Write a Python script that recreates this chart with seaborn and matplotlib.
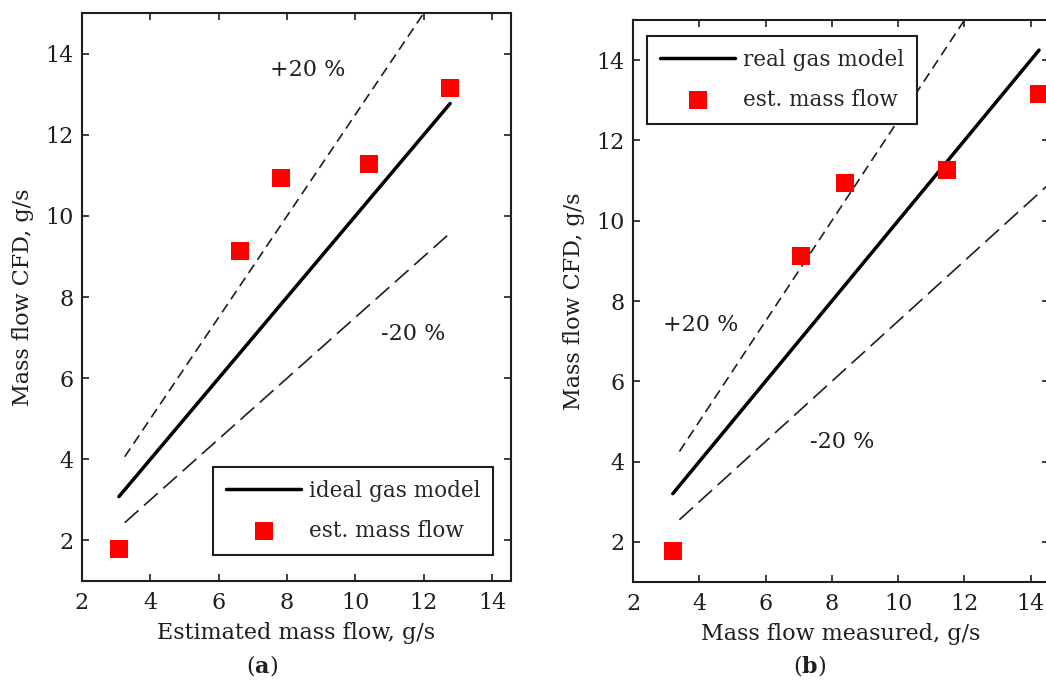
import numpy as np
import matplotlib
matplotlib.use("Agg")
import matplotlib.pyplot as plt
import seaborn as sns

# --- Data ---
cfd_flow = [1.78, 9.13, 10.94, 11.27, 13.15]          # Mass flow CFD, g/s
est_flow = [3.08, 6.61, 7.82, 10.40, 12.77]           # Estimated mass flow, g/s (a)
meas_flow = [3.20, 7.06, 8.39, 11.48, 14.25]          # Mass flow measured, g/s (b)

band_x_a = [3.25, 12.8]
band_x_b = [3.4, 14.6]
upper_factor = 1.25
lower_factor = 0.75

xticks = [2, 4, 6, 8, 10, 12, 14]
yticks = [2, 4, 6, 8, 10, 12, 14]

# --- Style ---
sns.set_theme(style="ticks")
plt.rcParams["font.family"] = ["DejaVu Serif"]
plt.rcParams["mathtext.fontset"] = "dejavuserif"
FS = 16
INK = "#1e1e1e"
W, H = 1046, 689


def draw_panel(ax, x_pts, band_x, line_label, xlabel, txt_up, txt_lo):
    x_pts = np.asarray(x_pts)
    ideal = np.array([x_pts.min(), x_pts.max()])
    bx = np.asarray(band_x)
    sns.lineplot(x=bx, y=bx * upper_factor, ax=ax, color=INK, lw=1.2,
                 linestyle=(0, (6, 3.5)))
    sns.lineplot(x=bx, y=bx * lower_factor, ax=ax, color=INK, lw=1.2,
                 linestyle=(0, (11, 4.5)))
    sns.lineplot(x=ideal, y=ideal, ax=ax, color="black", lw=2.5, label=line_label)
    sns.scatterplot(x=x_pts, y=cfd_flow, ax=ax, marker="s", s=150, color="#ff0000",
                    linewidth=0, label="est. mass flow", zorder=5)
    ax.set_xlim(2, 14.55)
    ax.set_ylim(1, 15)
    ax.set_xticks(xticks)
    ax.set_yticks(yticks)
    ax.tick_params(direction="in", top=True, right=True, length=5, width=1.2,
                   labelsize=FS, colors=INK)
    ax.tick_params(axis="x", pad=8)
    ax.tick_params(axis="y", pad=6)
    for s in ax.spines.values():
        s.set_linewidth(1.5)
        s.set_color(INK)
    ax.set_xlabel(xlabel, fontsize=FS, labelpad=6, color=INK)
    ax.set_ylabel("Mass flow CFD, g/s", fontsize=FS, labelpad=8, color=INK)
    ax.text(txt_up[0], txt_up[1], "+20 %", fontsize=FS, ha="center", va="center",
            color=INK)
    ax.text(txt_lo[0], txt_lo[1], "-20 %", fontsize=FS, ha="center", va="center",
            color=INK)


fig = plt.figure(figsize=(W / 100, H / 100), dpi=100)
ax1 = fig.add_axes([82 / W, 1 - 581 / H, 429 / W, 568 / H])
ax2 = fig.add_axes([633 / W, 1 - 582 / H, 416 / W, 562 / H])

draw_panel(ax1, est_flow, band_x_a, "ideal gas model", "Estimated mass flow, g/s",
           (8.6, 13.6), (11.7, 7.1))
draw_panel(ax2, meas_flow, band_x_b, "real gas model", "Mass flow measured, g/s",
           (4.05, 7.4), (8.3, 4.5))

leg_kw = dict(fontsize=15.5, frameon=True, fancybox=False, edgecolor=INK,
              handlelength=3.5, handletextpad=0.33, labelspacing=0.85,
              borderpad=0.6, borderaxespad=0)
l1 = ax1.legend(loc="lower right", bbox_to_anchor=(0.958, 0.046), **leg_kw)
l2 = ax2.legend(loc="upper left", bbox_to_anchor=(0.034, 0.972), **leg_kw)
for lg in (l1, l2):
    lg.get_frame().set_linewidth(1.5)
    lg.get_frame().set_alpha(1)

fig.text(262 / W, 1 - 665 / H, r"($\mathbf{a}$)", fontsize=FS, ha="center", va="center",
         color=INK)
fig.text(810 / W, 1 - 665 / H, r"($\mathbf{b}$)", fontsize=FS, ha="center", va="center",
         color=INK)

fig.savefig("out.png", dpi=100, facecolor="white")
